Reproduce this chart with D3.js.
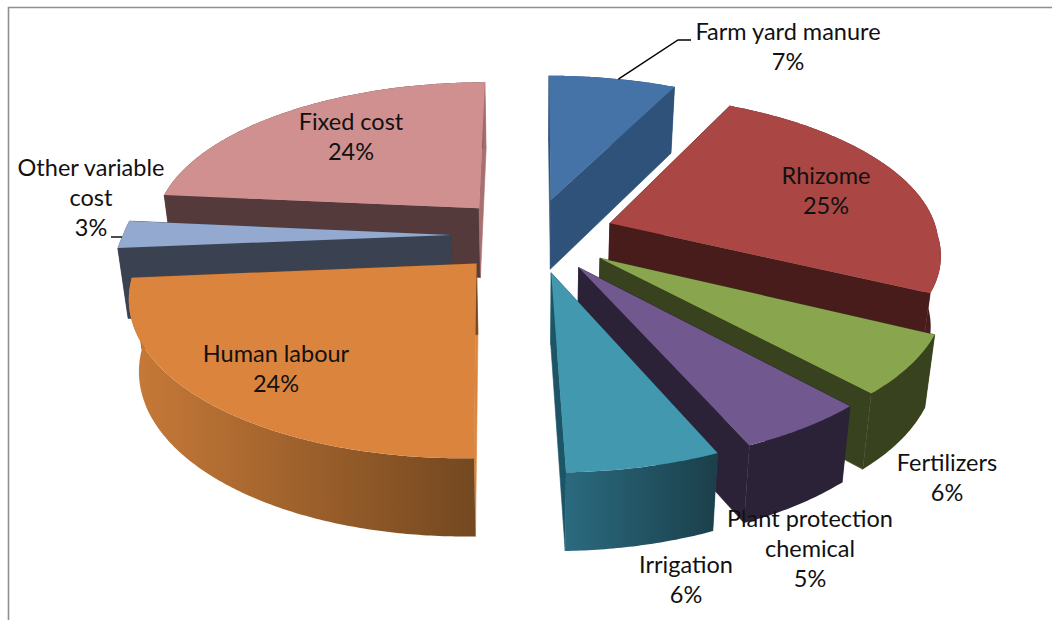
<!DOCTYPE html>
<html lang="en">
<head>
<meta charset="UTF-8">
<title>Cost shares</title>
<script src="https://d3js.org/d3.v7.min.js"></script>
<style>
  html, body { margin: 0; padding: 0; background: #fff; }
  svg { display: block; }
  text { font-family: Lato, "Open Sans", sans-serif; font-size: 23.5px; fill: #111; text-anchor: middle; }
  .frame { fill: none; stroke: #8f8f8f; stroke-width: 1.6; }
  .leader { fill: none; stroke: #000; stroke-width: 1.4; }
</style>
</head>
<body>
<svg id="chart" width="1052" height="620"></svg>
<script>
// values, with decimals so the slice edges land right
var categories = ["Farm yard manure", "Rhizome", "Fertilizers", "Plant protection chemical", "Irrigation", "Human labour", "Other variable cost", "Fixed cost"];
var values = [7.2, 25.2, 6.0, 5.2, 6.0, 24.0, 2.9, 23.5];

// label lines and anchors (centre x, first baseline y), same order as categories
var labelLines = [["Farm yard manure"], ["Rhizome"], ["Fertilizers"], ["Plant protection", "chemical"], ["Irrigation"], ["Human labour"], ["Other variable", "cost"], ["Fixed cost"]];
var labelAnchors = [[788, 40], [826, 184], [947, 471], [810, 527], [686, 573], [276, 362], [91, 176], [351, 130]];

var topColors = ["#4573a7", "#aa4643", "#89a54e", "#71588f", "#4198af", "#db843d", "#93a9cf", "#d09090"];
var wallColors = ["#2f527a", "#471c1a", "#38421e", "#2c2238", "#1c5566", "#db843d", "#3a4252", "#543a3a"];
var endWallColors = ["#2f527a", "#471c1a", "#38421e", "#2c2238", "#1c5566", "#74461f", "#3a4252", "#a8706f"];
var rimFrom = ["#2f527a", "#471c1a", "#38421e", "#2c2238", "#2a6a7f", "#c87a38", "#3a4252", "#543a3a"];
var rimTo = ["#2f527a", "#471c1a", "#38421e", "#2c2238", "#1b3f4a", "#744820", "#3a4252", "#a8706f"];
// where along the rim the fade starts, the fixed cost rim only turns pink at its far end
var rimHold = [0, 0, 0, 0, 0, 0, 0, 0.97];

// back slices first so the front ones paint over them
var drawOrder = [7, 6, 5, 0, 1, 2, 3, 4];

var cx = 533, cy = 235, rx = 328, ry = 148,
    perspFront = 5.55, perspBack = 8, explode = 0.25, depth = 70;

var x = d3.scaleLinear().domain([-1, 1]).range([cx - rx, cx + rx]),
    y = d3.scaleLinear().domain([-1, 1]).range([cy + ry, cy - ry]);

var svg = d3.select("#chart");
var line = d3.line();
var defs = svg.append("defs");

svg.append("path").attr("class", "frame").attr("d", "M8.5,620V7.5H1052");

var slices = d3.pie().value(function(d) { return d; }).sort(null)(values);

function top3d(mid, angle, r) {
    var u = explode * Math.sin(mid) + r * Math.sin(angle),
        v = explode * Math.cos(mid) + r * Math.cos(angle),
        persp = v < 0 ? perspFront : perspBack,
        s = persp / (persp + v);
    return { x: cx + (x(u) - cx) * s, y: cy + (y(v) - cy) * s, s: s };
}
function topPt(mid, angle, r) {
    var p = top3d(mid, angle, r);
    return [p.x, p.y];
}
function bottomPt(mid, angle, r) {
    var p = top3d(mid, angle, r);
    return [cx + (p.x - cx) * 0.975, p.y + depth + 30 * (p.s - 1)];
}

drawOrder.forEach(function(i) {
    var d = slices[i],
        mid = (d.startAngle + d.endAngle) / 2,
        g = svg.append("g"),
        angles = d3.range(d.startAngle, d.endAngle, 0.01).concat([d.endAngle]);

    var arcTop = angles.map(function(a) { return topPt(mid, a, 1); }),
        arcBottom = angles.map(function(a) { return bottomPt(mid, a, 1); });

    var gradId = "rim" + i;
    var xs = d3.extent(arcTop, function(p) { return p[0]; });
    var grad = defs.append("linearGradient").attr("id", gradId)
        .attr("gradientUnits", "userSpaceOnUse")
        .attr("x1", xs[0]).attr("x2", xs[1]).attr("y1", 0).attr("y2", 0);
    grad.append("stop").attr("offset", rimHold[i]).attr("stop-color", rimFrom[i]);
    grad.append("stop").attr("offset", 1).attr("stop-color", rimTo[i]);

    // two radial walls
    [[d.startAngle, wallColors[i]], [d.endAngle, endWallColors[i]]].forEach(function(w) {
        g.append("path")
            .attr("fill", w[1]).attr("stroke", w[1]).attr("stroke-width", 0.6)
            .attr("d", line([topPt(mid, w[0], 0), topPt(mid, w[0], 1), bottomPt(mid, w[0], 1), bottomPt(mid, w[0], 0)]) + "Z");
    });

    // outer rim
    g.append("path")
        .attr("fill", "url(#" + gradId + ")")
        .attr("d", line(arcTop.concat(arcBottom.slice().reverse())) + "Z");

    // top face
    g.append("path")
        .attr("fill", topColors[i])
        .attr("d", line([topPt(mid, d.startAngle, 0)].concat(arcTop)) + "Z");
});

// leader lines hang off the slice rim and the label anchor
var farm = slices[0],
    farmMid = (farm.startAngle + farm.endAngle) / 2,
    farmStart = topPt(farmMid, farmMid + 0.02, 1);
svg.append("path").attr("class", "leader")
    .attr("d", line([farmStart, [labelAnchors[0][0] - 110, labelAnchors[0][1]], [labelAnchors[0][0] - 97, labelAnchors[0][1]]]));
svg.append("path").attr("class", "leader")
    .attr("d", line([[labelAnchors[6][0] + 20, 237], [labelAnchors[6][0] + 31, 237]]));

categories.forEach(function(name, i) {
    var lines = labelLines[i].concat([Math.round(values[i]) + "%"]);
    var t = svg.append("text").attr("x", labelAnchors[i][0]).attr("y", labelAnchors[i][1]);
    lines.forEach(function(s, k) {
        t.append("tspan").attr("x", labelAnchors[i][0]).attr("dy", k ? 30 : 0).text(s);
    });
});
</script>
</body>
</html>
